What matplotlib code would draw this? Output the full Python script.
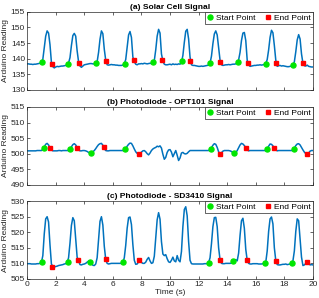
import matplotlib
matplotlib.use("Agg")
import matplotlib.pyplot as plt
import numpy as np

plt.rcParams['font.family'] = ['Liberation Sans', 'DejaVu Sans']

TIME = np.round(np.arange(0, 201) * 0.1, 1)

SOLAR = [
    138.3, 138.3, 138.2, 138.2, 138.1, 138.2, 138.2, 138.3, 138.4, 138.5,
    138.8, 139.8, 143.5, 147.2, 148.9, 148.2, 144.5, 138.8, 137.4, 137.0,
    137.3, 137.5, 137.4, 137.5, 137.6, 137.6, 137.7, 137.8, 137.9, 138.6,
    140.3, 144.2, 147.4, 148.1, 147.2, 142.5, 139.0, 137.6, 137.2, 137.6,
    138.0, 138.1, 138.2, 138.3, 138.4, 138.4, 138.3, 138.3, 138.5, 139.0,
    142.0, 146.2, 148.9, 148.0, 143.0, 139.5, 138.0, 137.9, 138.0, 138.1,
    138.0, 138.0, 137.9, 137.9, 137.8, 137.8, 137.8, 137.9, 138.3, 139.7,
    143.8, 147.6, 148.7, 146.8, 140.5, 139.0, 138.2, 138.0, 138.3, 138.3,
    138.4, 138.3, 138.5, 138.4, 138.3, 138.4, 138.5, 138.4, 138.6, 139.4,
    142.8, 147.2, 149.4, 148.2, 141.5, 139.2, 138.2, 138.0, 138.0, 138.1,
    138.2, 138.0, 138.3, 138.1, 138.2, 138.1, 138.3, 138.2, 138.8, 141.0,
    145.2, 148.8, 149.4, 146.3, 140.5, 138.0, 137.8, 137.8, 137.7, 137.6,
    137.5, 137.5, 137.6, 137.5, 137.6, 137.7, 137.8, 137.9, 138.5, 140.8,
    144.8, 147.9, 148.9, 147.6, 143.5, 139.5, 138.0, 137.8, 137.9, 138.0,
    138.0, 138.1, 138.0, 138.1, 138.2, 138.2, 138.3, 138.6, 139.6, 142.0,
    145.8, 148.2, 148.4, 145.8, 139.5, 138.0, 137.5, 137.6, 137.7, 137.8,
    137.8, 137.9, 137.9, 138.0, 137.9, 138.0, 138.1, 138.4, 139.7, 142.8,
    146.8, 149.1, 148.3, 144.2, 139.5, 137.5, 137.7, 137.8, 137.6, 137.7,
    137.6, 137.5, 137.4, 137.4, 137.5, 137.6, 137.8, 139.0, 142.2, 146.0,
    147.7, 146.3, 141.5, 138.5, 137.7, 137.6, 137.9, 137.5, 137.4, 137.3,
    137.3,
]
OPT101 = [
    500.9, 500.9, 500.9, 500.9, 500.9, 500.9, 500.9, 501.0, 501.0, 501.0,
    501.0, 501.4, 502.2, 503.0, 503.3, 502.8, 501.9, 501.2, 500.9, 500.9,
    500.9, 500.9, 501.0, 501.0, 500.9, 501.0, 501.0, 501.0, 501.0, 501.0,
    501.4, 502.2, 502.9, 503.2, 502.8, 502.0, 501.2, 500.9, 500.9, 501.0,
    501.0, 500.9, 500.7, 500.4, 500.2, 500.3, 500.6, 501.0, 501.6, 502.3,
    502.9, 503.2, 503.3, 502.7, 501.6, 501.0, 500.9, 500.9, 501.0, 501.0,
    501.0, 501.0, 501.0, 501.0, 501.0, 501.0, 501.0, 501.0, 501.1, 501.7,
    502.4, 503.0, 503.4, 503.3, 502.5, 501.5, 500.6, 500.1, 499.8, 500.0,
    500.5, 500.9, 501.0, 500.6, 500.0, 499.6, 500.2, 501.0, 501.5, 501.8,
    502.0, 502.4, 502.2, 502.5, 501.8, 499.8, 498.2, 498.8, 500.4, 501.2,
    501.3, 500.5, 499.0, 500.0, 501.0, 499.5, 497.8, 498.6, 500.2, 500.4,
    500.0, 499.9, 500.1, 500.6, 501.0, 501.0, 501.0, 501.0, 501.0, 501.0,
    501.0, 501.0, 501.0, 501.0, 501.0, 501.0, 501.0, 501.0, 501.3, 501.9,
    502.7, 503.2, 503.0, 502.0, 500.6, 499.9, 500.3, 500.8, 501.0, 501.0,
    501.0, 501.0, 500.9, 500.7, 500.4, 500.1, 500.3, 501.0, 501.9, 502.8,
    503.3, 503.1, 502.6, 501.9, 501.2, 500.9, 501.0, 501.0, 501.0, 501.0,
    501.0, 501.0, 501.0, 501.0, 501.0, 501.0, 501.0, 501.0, 501.6, 502.4,
    503.1, 503.0, 502.5, 501.8, 501.2, 500.9, 501.0, 501.0, 501.0, 501.0,
    501.0, 501.0, 501.0, 501.0, 501.0, 501.0, 501.1, 501.8, 502.6, 503.1,
    503.2, 502.8, 502.0, 501.2, 500.5, 500.0, 499.8, 500.2, 500.8, 501.0,
    501.0,
]
SD3410 = [
    509.9, 509.9, 509.9, 509.8, 509.8, 509.8, 509.8, 509.9, 509.9, 510.0,
    510.3, 512.5, 519.5, 524.3, 525.0, 523.3, 516.0, 509.8, 509.0, 508.8,
    509.0, 509.1, 509.3, 509.4, 509.5, 509.6, 509.8, 509.9, 510.2, 511.8,
    516.5, 522.2, 524.7, 523.7, 518.0, 512.0, 510.8, 509.6, 509.5, 509.7,
    509.8, 510.0, 510.4, 510.7, 510.5, 510.0, 509.4, 509.3, 509.8, 511.8,
    517.8, 523.5, 525.0, 522.3, 515.5, 511.3, 510.0, 509.8, 509.9, 510.0,
    510.0, 510.0, 510.0, 510.0, 510.0, 510.0, 510.0, 510.3, 511.8, 515.8,
    521.3, 524.7, 524.9, 522.5, 516.0, 511.0, 509.7, 509.8, 510.5, 510.9,
    510.3, 510.0, 510.0, 510.4, 511.3, 511.9, 510.8, 510.0, 510.2, 512.3,
    518.0, 524.0, 526.3, 524.2, 517.0, 513.0, 512.5, 512.8, 511.5, 510.5,
    510.3, 511.0, 512.0, 510.8, 510.5, 512.5, 511.0, 510.5, 513.8, 521.8,
    527.3, 528.2, 525.3, 517.0, 511.0, 509.9, 509.8, 509.8, 509.8, 509.8,
    509.8, 509.8, 509.8, 509.8, 509.9, 509.9, 509.9, 510.2, 511.8, 516.3,
    521.8, 524.7, 524.8, 521.8, 515.0, 511.2, 510.0, 509.9, 509.9, 510.0,
    510.0, 510.0, 510.0, 510.1, 510.6, 511.0, 511.2, 510.8, 513.3, 519.0,
    523.7, 524.5, 521.3, 514.5, 511.0, 510.0, 509.8, 509.8, 509.9, 509.9,
    509.9, 509.9, 509.8, 509.8, 509.8, 509.9, 509.9, 510.4, 514.0, 520.3,
    524.3, 524.9, 522.7, 515.0, 510.9, 509.6, 509.5, 509.5, 509.6, 509.7,
    509.7, 509.8, 509.6, 509.7, 509.8, 510.0, 510.8, 514.0, 520.3, 524.3,
    523.7, 518.0, 512.0, 509.3, 509.5, 510.0, 510.4, 510.0, 509.5, 509.6,
    509.5,
]

START_T_A = [1.06, 2.85, 4.84, 6.82, 8.80, 10.82, 12.83, 14.74, 16.73, 18.62]
START_V_A = [138.9, 138.4, 138.7, 138.3, 138.8, 139.2, 138.5, 139.0, 138.4, 137.9]
END_T_A = [1.71, 3.62, 5.49, 7.45, 9.45, 11.43, 13.51, 15.44, 17.45, 19.27]
END_V_A = [138.4, 138.5, 139.2, 139.5, 139.7, 139.2, 139.0, 138.7, 138.6, 138.7]

START_T_B = [1.15, 3.02, 4.44, 6.83, 12.85, 14.46, 16.80, 18.66]
START_V_B = [501.7, 501.5, 500.2, 501.5, 501.5, 500.1, 501.6, 501.5]
END_T_B = [1.60, 3.51, 5.37, 7.82, 13.51, 15.30, 17.31, 19.57]
END_V_B = [501.9, 501.9, 502.0, 499.8, 499.9, 501.9, 501.9, 499.8]

START_T_C = [1.01, 2.85, 4.40, 6.74, 12.74, 14.42, 16.66, 18.55]
START_V_C = [510.4, 510.4, 510.4, 510.4, 510.2, 510.9, 510.0, 510.2]
END_T_C = [1.77, 3.58, 5.49, 7.82, 13.51, 15.40, 17.40, 19.57]
END_V_C = [508.8, 511.0, 511.4, 511.0, 511.2, 511.0, 510.9, 510.3]

PANELS = [
    ("(a) Solar Cell Signal", SOLAR, (130, 155), START_T_A, START_V_A, END_T_A, END_V_A),
    ("(b) Photodiode - OPT101 Signal", OPT101, (490, 515), START_T_B, START_V_B, END_T_B, END_V_B),
    ("(c) Photodiode - SD3410 Signal", SD3410, (505, 530), START_T_C, START_V_C, END_T_C, END_V_C),
]
BOTTOMS = [0.699, 0.380, 0.064]

LINE_COLOR = '#0072BD'
AX_COLOR = '#262626'
FS = 6.0

fig = plt.figure(figsize=(3.19, 2.98), dpi=100)

for i, (title, sig, ylim, st, sv, et, ev) in enumerate(PANELS):
    ax = fig.add_axes([0.085, BOTTOMS[i], 0.896, 0.261])
    ax.plot(TIME, sig, color=LINE_COLOR, lw=1.1, zorder=2)
    ax.plot(st, sv, 'o', color='#00e600', ms=3.6, ls='none', label='Start Point', zorder=3)
    ax.plot(et, ev, 's', color='#ff0000', ms=3.2, ls='none', label='End Point', zorder=3)
    ax.set_xlim(0, 20)
    ax.set_ylim(*ylim)
    ax.set_xticks(np.arange(0, 21, 2))
    ax.set_yticks(np.arange(ylim[0], ylim[1] + 1, 5))
    ax.tick_params(direction='in', top=True, right=True, length=2, width=0.5,
                   labelsize=FS, colors=AX_COLOR, pad=1.5)
    for sp in ax.spines.values():
        sp.set_linewidth(0.5)
        sp.set_color(AX_COLOR)
    if i < 2:
        ax.set_xticklabels([])
    else:
        ax.set_xlabel('Time (s)', fontsize=FS, color=AX_COLOR, labelpad=0.5)
    ax.set_ylabel('Arduino Reading', fontsize=FS, color=AX_COLOR, labelpad=1)
    ax.set_title(title, fontsize=FS, fontweight='bold', pad=2, color='black')
    leg = ax.legend(loc='upper right', ncol=2, fontsize=FS, borderaxespad=0,
                    handlelength=0.8, handletextpad=0.3, columnspacing=1.1,
                    borderpad=0.25, fancybox=False, framealpha=1)
    leg.get_frame().set_linewidth(0.5)
    leg.get_frame().set_edgecolor('#262626')

fig.savefig('out.png', dpi=100)
